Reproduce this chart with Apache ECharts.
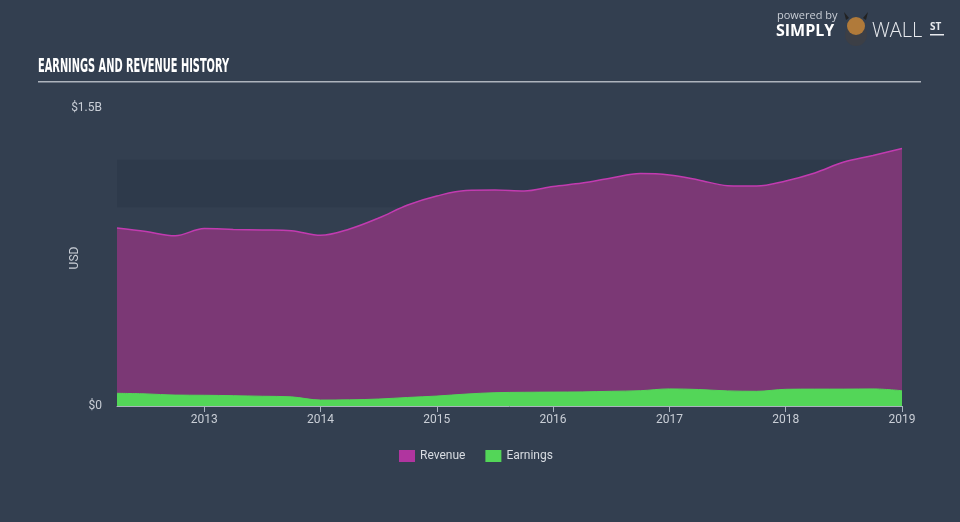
<!DOCTYPE html>
<html>
<head>
<meta charset="utf-8">
<script src="https://cdn.jsdelivr.net/npm/echarts@6/dist/echarts.min.js"></script>
<style>
html,body{margin:0;padding:0;background:#333f50;}
#c{width:960px;height:522px;}
</style>
</head>
<body>
<div id="c"></div>
<script>
// Quarter-end dates
const dates = [
  '2012-03-31','2012-06-30','2012-09-30','2012-12-31',
  '2013-03-31','2013-06-30','2013-09-30','2013-12-31',
  '2014-03-31','2014-06-30','2014-09-30','2014-12-31',
  '2015-03-31','2015-06-30','2015-09-30','2015-12-31',
  '2016-03-31','2016-06-30','2016-09-30','2016-12-31',
  '2017-03-31','2017-06-30','2017-09-30','2017-12-31',
  '2018-03-31','2018-06-30','2018-09-30','2018-12-31'
];
// USD billions
const revenue = [0.896,0.878,0.857,0.893,0.889,0.886,0.882,0.859,0.891,0.946,1.012,1.057,
  1.085,1.087,1.082,1.105,1.122,1.148,1.170,1.163,1.138,1.109,1.107,1.133,1.173,1.228,1.261,1.296];
const earnings = [0.064,0.061,0.055,0.054,0.052,0.049,0.046,0.030,0.031,0.035,0.043,0.050,
  0.060,0.067,0.069,0.070,0.071,0.074,0.077,0.086,0.083,0.076,0.074,0.084,0.085,0.085,0.086,0.077];
const yearTicks = [2013,2014,2015,2016,2017,2018,2019];
const yTicks = [0, 1.5];
const bandRange = [1.0, 1.24];

function toYear(d){ const p = d.split('-'); return +p[0] + (+p[1])/12; }
const xs = dates.map(toYear);
const revData = xs.map((x,i)=>[x, revenue[i]*1e9]);
const earnData = xs.map((x,i)=>[x, earnings[i]*1e9]);

const chart = echarts.init(document.getElementById('c'), null, {renderer:'canvas'});
const labelColor = '#c9ced6';
chart.setOption({
  backgroundColor: '#333f50',
  animation: false,
  grid: {left: 117, right: 58, top: 108, bottom: 116},
  legend: {
    left: 394, top: 445, itemWidth: 16, itemHeight: 12, itemGap: 20, icon: 'rect',
    textStyle: {color: '#d8dce2', fontSize: 12, fontFamily: 'Roboto'},
    data: ['Revenue','Earnings']
  },
  xAxis: {
    type: 'value', min: xs[0], max: xs[xs.length-1],
    splitLine: {show:false},
    axisLine: {show:true, lineStyle:{color:'#aab3bf', width:1}},
    axisTick: {show:true, length:6, lineStyle:{color:'#aab3bf'}, customValues: yearTicks},
    axisLabel: {color: labelColor, fontSize: 12, fontFamily:'Roboto', margin: 8,
      customValues: yearTicks, formatter: v => String(Math.round(v))}
  },
  yAxis: {
    type: 'value', min: 0, max: yTicks[1]*1e9, interval: yTicks[1]*1e9,
    splitLine: {show:false}, axisLine:{show:false}, axisTick:{show:false},
    axisLabel: {color: labelColor, fontSize: 12, fontFamily:'Roboto', margin: 15,
      formatter: v => v === 0 ? '$0' : '$' + (v/1e9) + 'B'}
  },
  series: [
    {
      type: 'line', name: 'band', data: [], z: 1, silent: true,
      markArea: {silent: true, itemStyle: {color: 'rgba(20,28,38,0.12)'},
        data: [[{xAxis: xs[0], yAxis: bandRange[0]*1e9}, {xAxis: xs[xs.length-1], yAxis: bandRange[1]*1e9}]]}
    },
    {
      type: 'line', name: 'Revenue', data: revData, smooth: 0.35, symbol: 'none', z: 2,
      itemStyle: {color: '#b0359f'},
      lineStyle: {color: '#c23bb0', width: 1.5},
      areaStyle: {color: '#7b3875', opacity: 1}
    },
    {
      type: 'line', name: 'Earnings', data: earnData, smooth: 0.35, symbol: 'none', z: 3,
      itemStyle: {color: '#53d658'},
      lineStyle: {color: '#53d658', width: 1},
      areaStyle: {color: '#53d658', opacity: 1}
    }
  ],
  graphic: [
    {type:'text', x: 75, y: 258, rotation: Math.PI/2, style:{text:'USD', fill: labelColor,
      font:'12px Roboto', align:'center', verticalAlign:'middle'}},
    {type:'text', left: 38, top: 58, scaleX: 0.575, style:{text:'EARNINGS AND REVENUE HISTORY', fill:'#ffffff',
      font:'bold 19px "Liberation Sans Narrow", "DejaVu Sans Condensed", sans-serif'}},
    {type:'rect', shape:{x:38, y:81, width:883, height:1.5}, style:{fill:'#aeb4bd'}},
    {type:'text', left: 777, top: 10, style:{text:'powered by', fill:'#c9ced6', font:'11px "Open Sans", sans-serif'}},
    {type:'text', left: 776, top: 23, style:{text:'SIMPLY', fill:'#ffffff', font:'bold 16px "Open Sans", sans-serif'}},
    {type:'circle', shape:{cx:856, cy:35, r:11}, style:{fill:'#3c3f46'}},
    {type:'circle', shape:{cx:856, cy:26, r:9}, style:{fill:'#b07a3a'}},
    {type:'polygon', shape:{points:[[846,20],[844,12],[849,18]]}, style:{fill:'#222'}},
    {type:'polygon', shape:{points:[[866,20],[868,12],[863,18]]}, style:{fill:'#222'}},
    {type:'text', left: 872, top: 21, style:{text:'WALL', fill:'#e8eaee', font:'300 20px "Open Sans", sans-serif'}},
    {type:'text', left: 930, top: 22, style:{text:'ST', fill:'#e8eaee', font:'bold 10px "Open Sans", sans-serif'}},
    {type:'rect', shape:{x:930, y:34, width:14, height:1.5}, style:{fill:'#e8eaee'}}
  ]
});
</script>
</body>
</html>
